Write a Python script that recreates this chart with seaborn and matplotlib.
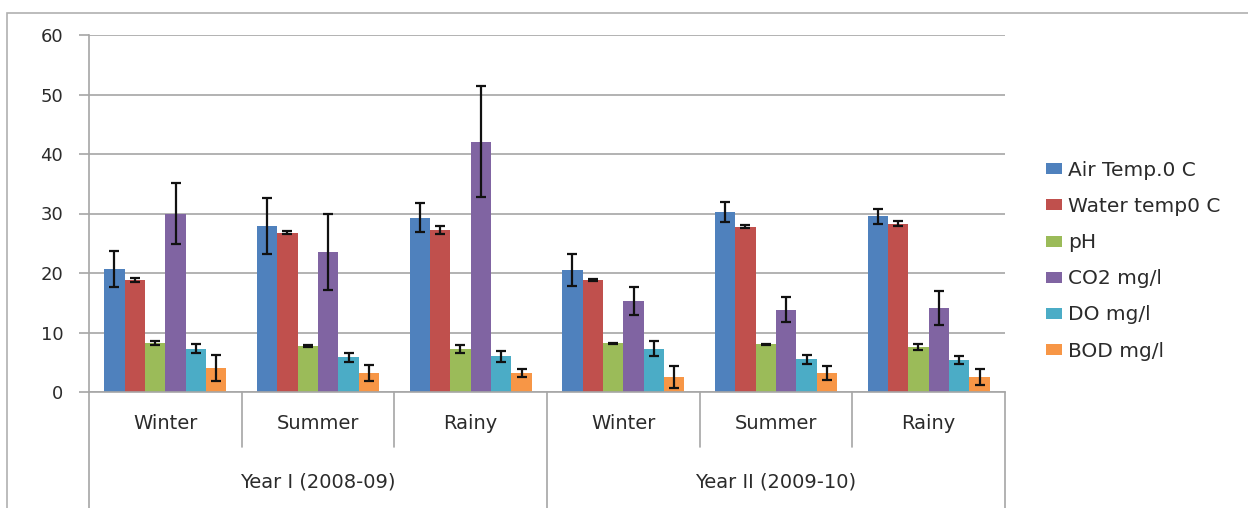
import numpy as np
import pandas as pd
import matplotlib
matplotlib.use("Agg")
import matplotlib.pyplot as plt
import matplotlib.transforms as mtransforms
from matplotlib.patches import Rectangle
import seaborn as sns

# Seasonal water-quality parameters, two study years
years = ["Year I (2008-09)", "Year II (2009-10)"]
seasons = ["Winter", "Summer", "Rainy"]
params = ["Air Temp.0 C", "Water temp0 C", "pH", "CO2 mg/l", "DO mg/l", "BOD mg/l"]

# mean values per slot: Y1 Winter, Y1 Summer, Y1 Rainy, Y2 Winter, Y2 Summer, Y2 Rainy
air_temp   = [20.7, 27.9, 29.3, 20.5, 30.3, 29.5]
water_temp = [18.8, 26.8, 27.2, 18.8, 27.8, 28.3]
ph         = [8.2, 7.7, 7.2, 8.2, 8.0, 7.6]
co2        = [30.0, 23.5, 42.1, 15.3, 13.8, 14.1]
do         = [7.3, 5.8, 6.0, 7.3, 5.5, 5.4]
bod        = [4.0, 3.2, 3.2, 2.5, 3.2, 2.5]

# standard deviations
air_temp_sd   = [3.0, 4.7, 2.4, 2.7, 1.7, 1.3]
water_temp_sd = [0.3, 0.2, 0.7, 0.2, 0.2, 0.45]
ph_sd         = [0.3, 0.2, 0.7, 0.1, 0.15, 0.5]
co2_sd        = [5.2, 6.4, 9.3, 2.3, 2.1, 2.9]
do_sd         = [0.7, 0.7, 0.9, 1.3, 0.8, 0.7]
bod_sd        = [2.2, 1.3, 0.7, 1.8, 1.2, 1.4]

means = [air_temp, water_temp, ph, co2, do, bod]
sds = [air_temp_sd, water_temp_sd, ph_sd, co2_sd, do_sd, bod_sd]
colors = ["#4F81BD", "#C0504D", "#9BBB59", "#8064A2", "#4BACC6", "#F79646"]

slots = [f"{y}|{s}" for y in years for s in seasons]
rows = []
for p, vals in zip(params, means):
    for slot, v in zip(slots, vals):
        rows.append({"slot": slot, "param": p, "value": v})
df = pd.DataFrame(rows)

sns.set_theme(style="white")
plt.rcParams["font.family"] = ["DejaVu Sans"]

TXT = "#2b2b2b"
GRID = "#a6a6a6"
W, H = 1248, 508
fig = plt.figure(figsize=(W / 100, H / 100), dpi=100)
ax = fig.add_axes([89 / W, (H - 392) / H, (1005 - 89) / W, (392 - 35) / H])

sns.barplot(data=df, x="slot", y="value", hue="param", order=slots,
            hue_order=params, palette=colors, width=0.8, saturation=1,
            errorbar=None, legend=False, ax=ax, edgecolor="none", linewidth=0)

# error bars placed on each bar's centre
for cont, vals, errs in zip(ax.containers, means, sds):
    xs = [b.get_x() + b.get_width() / 2 for b in cont]
    ax.errorbar(xs, vals, yerr=errs, fmt="none", ecolor="#111111",
                elinewidth=1.6, capsize=3.3, capthick=1.6, zorder=5)

ax.set_ylim(0, 60)
ax.set_yticks(np.arange(0, 61, 10))
ax.set_xlim(-0.5, 5.5)
ax.yaxis.grid(True, color=GRID, linewidth=1.2)
ax.set_axisbelow(True)
for side in ["top", "right"]:
    ax.spines[side].set_visible(False)
for side in ["left", "bottom"]:
    ax.spines[side].set_color(GRID)
    ax.spines[side].set_linewidth(1.2)
ax.tick_params(axis="y", left=True, length=7.5, width=1.2, color=GRID,
               labelsize=13, labelcolor=TXT, pad=11)
ax.set_xlabel("")
ax.set_ylabel("")
ax.set_xticks([])

# two-level category axis: seasons, then years, with separators
trans = mtransforms.blended_transform_factory(ax.transData, ax.transAxes)
ax_h = 392 - 35
short_y = -(447 - 392) / ax_h
long_y = -(515 - 392) / ax_h
for xv in [0.5, 1.5, 3.5, 4.5]:
    ax.plot([xv, xv], [0, short_y], transform=trans, color=GRID,
            linewidth=1.2, clip_on=False)
for xv in [-0.5, 2.5, 5.5]:
    ax.plot([xv, xv], [0, long_y], transform=trans, color=GRID,
            linewidth=1.2, clip_on=False)
for i, slot in enumerate(slots):
    ax.text(i, -(423.5 - 392) / ax_h, slot.split("|")[1], transform=trans,
            ha="center", va="center", fontsize=14, color=TXT)
for i, yname in enumerate(years):
    ax.text(1 + 3 * i, -(481.5 - 392) / ax_h, yname, transform=trans,
            ha="center", va="center", fontsize=14, color=TXT)

# legend at the right
handles = [Rectangle((0, 0), 1, 1, facecolor=c, edgecolor="none") for c in colors]
fig.legend(handles, params, loc="upper left",
           bbox_to_anchor=(1046 / W, (H - 161) / H), frameon=False,
           borderpad=0, borderaxespad=0,
           prop={"size": 14.5}, handlelength=0.78, handleheight=0.46,
           handletextpad=0.3, labelspacing=0.85, labelcolor=TXT)

# chart frame
fig.add_artist(Rectangle((7 / W, -0.05), 1.0, (H - 13) / H + 0.05,
                         transform=fig.transFigure, fill=False,
                         edgecolor="#b0b0b0", linewidth=1.2))

fig.savefig("out.png", dpi=100, facecolor="white")
